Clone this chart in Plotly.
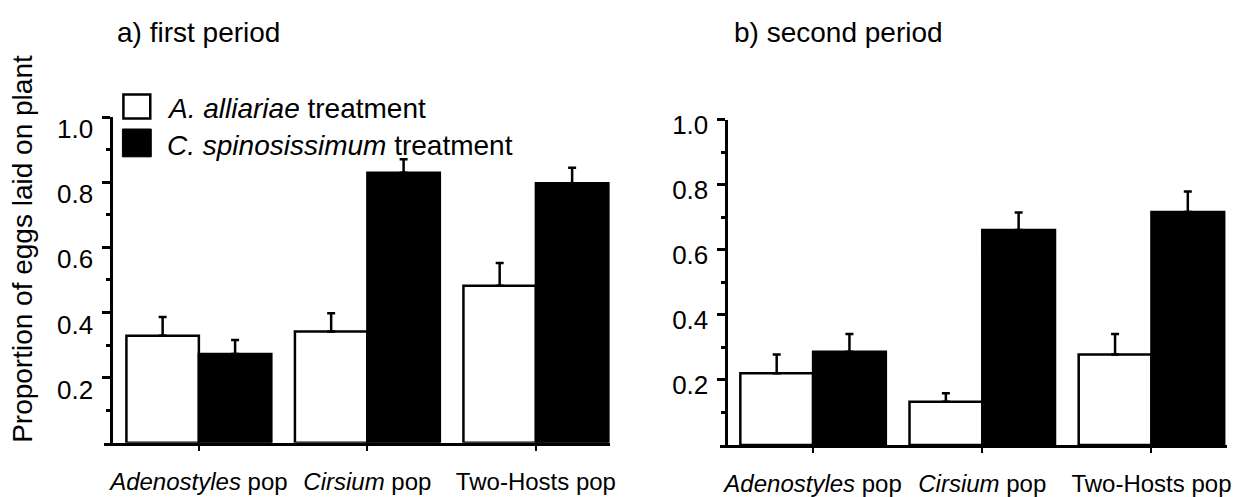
import plotly.graph_objects as go

W, H = 1246, 497

categories = ["Adenostyles pop", "Cirsium pop", "Two-Hosts pop"]
category_labels = ["<i>Adenostyles</i> pop", "<i>Cirsium</i> pop", "Two-Hosts pop"]

# a) first period
first_alliariae = [0.329, 0.342, 0.482]
first_alliariae_err = [0.057, 0.056, 0.070]
first_spinosissimum = [0.273, 0.829, 0.797]
first_spinosissimum_err = [0.043, 0.041, 0.047]

# b) second period
second_alliariae = [0.221, 0.133, 0.278]
second_alliariae_err = [0.057, 0.026, 0.063]
second_spinosissimum = [0.287, 0.661, 0.716]
second_spinosissimum_err = [0.054, 0.054, 0.063]

y_tickvals = [0.2, 0.4, 0.6, 0.8, 1.0]
y_ticktext = ["0.2", "0.4", "0.6", "0.8", "1.0"]
y_minor = [0.1, 0.3, 0.5, 0.7, 0.9]

legend_labels = ["<i>A. alliariae</i> treatment", "<i>C. spinosissimum</i> treatment"]
panel_titles = ["a) first period", "b) second period"]
y_title = "Proportion of eggs laid on plant"

FONT = "Liberation Sans, Arial, sans-serif"


def px(x):
    return x / W


def py(y):
    return 1 - y / H


def bar(vals, errs, fill, xa, ya):
    return go.Bar(
        x=categories, y=vals, xaxis=xa, yaxis=ya, showlegend=False,
        marker=dict(color=fill, line=dict(color="black", width=2.5)),
        error_y=dict(type="data", symmetric=False, array=errs,
                     arrayminus=[0] * len(errs), color="black",
                     thickness=2.5, width=4),
    )


fig = go.Figure()
fig.add_trace(bar(first_alliariae, first_alliariae_err, "white", "x", "y"))
fig.add_trace(bar(first_spinosissimum, first_spinosissimum_err, "black", "x", "y"))
fig.add_trace(bar(second_alliariae, second_alliariae_err, "white", "x2", "y2"))
fig.add_trace(bar(second_spinosissimum, second_spinosissimum_err, "black", "x2", "y2"))

xcommon = dict(
    type="category", tickvals=categories, ticktext=category_labels,
    showline=True, linewidth=3, linecolor="black", ticks="outside",
    ticklen=5, tickwidth=2, tickcolor="black", showgrid=False,
    zeroline=False, ticklabelstandoff=10,
    tickfont=dict(family=FONT, size=24, color="black"),
)
ycommon = dict(
    range=[0, 1.0], tickvals=y_tickvals, ticktext=y_ticktext,
    showline=True, linewidth=3, linecolor="black", ticks="outside",
    ticklen=8, tickwidth=3, tickcolor="black", showgrid=False,
    zeroline=False, anchor="free", ticklabelstandoff=4,
    tickfont=dict(family=FONT, size=26, color="black"),
    minor=dict(tickvals=y_minor, ticks="outside", ticklen=4,
               tickwidth=3, tickcolor="black", showgrid=False),
)

fig.update_layout(
    width=W, height=H,
    margin=dict(l=0, r=0, t=0, b=0),
    paper_bgcolor="white", plot_bgcolor="white",
    barmode="group", bargap=0.14, bargroupgap=0,
    showlegend=False,
    xaxis=dict(xcommon, domain=[px(105), px(613)], range=[-0.56, 2.44], anchor="y"),
    yaxis=dict(ycommon, domain=[py(451), py(111.5)], position=px(112),
               ticklabelshift=12),
    xaxis2=dict(xcommon, domain=[px(723), px(1233)], range=[-0.553, 2.447], anchor="y2"),
    yaxis2=dict(ycommon, domain=[py(453.3), py(114.3)], position=px(730),
                ticklabelshift=5),
)

# legend swatches (paper coordinates)
fig.add_shape(type="rect", xref="paper", yref="paper",
              x0=px(124), x1=px(151), y0=py(113), y1=py(88),
              line=dict(color="black", width=2.5), fillcolor="white")
fig.add_shape(type="rect", xref="paper", yref="paper",
              x0=px(123), x1=px(152), y0=py(153), y1=py(124),
              line=dict(color="black", width=1), fillcolor="black")

annots = [
    dict(text=legend_labels[0], x=px(166), y=py(103), xanchor="left", yanchor="middle",
         font=dict(family=FONT, size=28, color="black")),
    dict(text=legend_labels[1], x=px(166), y=py(141), xanchor="left", yanchor="middle",
         font=dict(family=FONT, size=28, color="black")),
    dict(text=panel_titles[0], x=px(116), y=py(23), xanchor="left", yanchor="middle",
         font=dict(family=FONT, size=28, color="black")),
    dict(text=panel_titles[1], x=px(736), y=py(23), xanchor="left", yanchor="middle",
         font=dict(family=FONT, size=28, color="black")),
    dict(text=y_title, x=px(23), y=py(249), xanchor="center", yanchor="middle",
         textangle=-90, font=dict(family=FONT, size=28, color="black")),
]
for a in annots:
    fig.add_annotation(xref="paper", yref="paper", showarrow=False, **a)

fig.write_html("out.html")
